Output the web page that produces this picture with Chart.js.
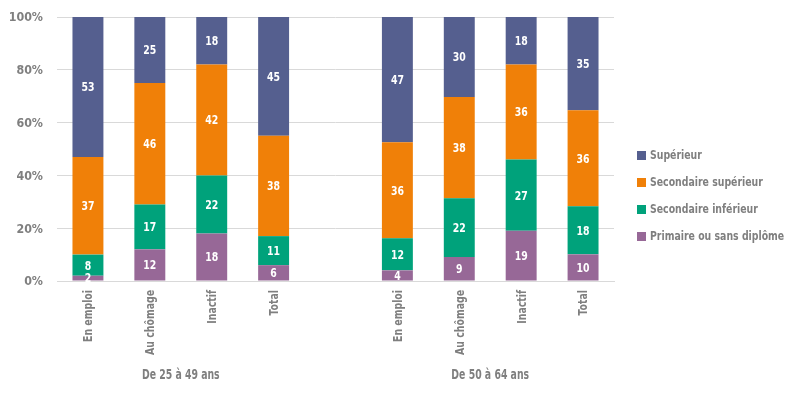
<!DOCTYPE html>
<html><head><meta charset="utf-8">
<script src="https://cdn.jsdelivr.net/npm/chart.js@4/dist/chart.umd.min.js"></script>
<style>html,body{margin:0;padding:0;background:#fff}#wrap{width:800px;height:393px;position:relative}</style>
</head><body><div id="wrap"><canvas id="c" width="800" height="393"></canvas></div>
<script>
const categories = ['En emploi','Au chômage','Inactif','Total','','En emploi','Au chômage','Inactif','Total'];
const groupLabels = ['De 25 à 49 ans','De 50 à 64 ans'];
const groupRanges = [[0,3],[5,8]];
const seriesNames = ['Primaire ou sans diplôme','Secondaire inférieur','Secondaire supérieur','Supérieur'];
const primaire   = [2, 12, 18, 6, null, 4, 9, 19, 10];
const secInf     = [8, 17, 22, 11, null, 12, 22, 27, 18];
const secSup     = [37, 46, 42, 38, null, 36, 38, 36, 36];
const superieur  = [53, 25, 18, 45, null, 47, 30, 18, 35];
const colors = ['#976897','#00A27B','#F08008','#555F8F'];
const yTicks = [0,20,40,60,80,100];

const FONT = '"DejaVu Sans Condensed","DejaVu Sans",sans-serif';
const SX = 0.8;            // horizontal squeeze to imitate the condensed face
const TEXT_GRAY = '#7f7f7f';
const raw = [primaire, secInf, secSup, superieur];
const totals = categories.map((_, i) => raw.reduce((s, a) => s + (a[i] || 0), 0));
const datasets = raw.map((arr, k) => ({
  label: seriesNames[k],
  data: arr.map((v, i) => v == null ? null : v / totals[i] * 100),
  rawLabels: arr,
  backgroundColor: colors[k],
  borderWidth: 0,
  barPercentage: 0.5,
  categoryPercentage: 1.0
}));

function squeezedText(ctx, text, x, y, align, rot, sx) {
  ctx.save();
  ctx.translate(x, y);
  if (rot) ctx.rotate(rot);
  ctx.scale(sx || SX, 1);
  ctx.textAlign = align;
  ctx.fillText(text, 0, 0);
  ctx.restore();
}

const textPlugin = {
  id: 'texts',
  afterDatasetsDraw(chart) {
    const ctx = chart.ctx;
    ctx.save();
    ctx.textBaseline = 'middle';
    ctx.font = 'bold 13px ' + FONT;
    ctx.fillStyle = '#ffffff';
    chart.data.datasets.forEach((ds, di) => {
      const meta = chart.getDatasetMeta(di);
      meta.data.forEach((el, i) => {
        const v = ds.rawLabels[i];
        if (v == null) return;
        squeezedText(ctx, String(v), el.x, (el.y + el.base) / 2 + 1, 'center');
      });
    });
    ctx.restore();
  },
  afterDraw(chart) {
    const ctx = chart.ctx, xs = chart.scales.x, ys = chart.scales.y;
    ctx.save();
    ctx.textBaseline = 'middle';
    ctx.fillStyle = TEXT_GRAY;
    // y tick labels
    ctx.font = 'bold 13px ' + FONT;
    ys.ticks.forEach((t, i) => {
      squeezedText(ctx, t.value + '%', 43, ys.getPixelForTick(i) + 1, 'right', 0, 0.95);
    });
    // x tick labels (vertical)
    categories.forEach((c, i) => {
      if (!c) return;
      squeezedText(ctx, c, xs.getPixelForValue(i) + 1, xs.top + 9, 'right', -Math.PI / 2);
    });
    // group labels
    ctx.font = 'bold 14px ' + FONT;
    groupRanges.forEach((r, g) => {
      const x = (xs.getPixelForValue(r[0]) + xs.getPixelForValue(r[1])) / 2;
      squeezedText(ctx, groupLabels[g], x, 375, 'center', 0, 0.74);
    });
    // legend
    ctx.font = 'bold 13px ' + FONT;
    const order = [3, 2, 1, 0];
    order.forEach((k, j) => {
      const y = 155 + j * 27;
      ctx.fillStyle = colors[k];
      ctx.fillRect(637, y - 4, 9, 9);
      ctx.fillStyle = TEXT_GRAY;
      squeezedText(ctx, seriesNames[k], 650, y + 1, 'left');
    });
    ctx.restore();
  }
};

new Chart(document.getElementById('c'), {
  type: 'bar',
  data: { labels: categories, datasets },
  options: {
    responsive: false,
    animation: false,
    layout: { padding: { left: 0, right: 186, top: 17, bottom: 0 } },
    plugins: { legend: { display: false }, tooltip: { enabled: false } },
    scales: {
      x: {
        stacked: true,
        grid: { display: false, drawTicks: false },
        border: { color: '#d9d9d9', width: 1 },
        ticks: { display: false },
        afterFit(scale) { scale.height = 112; }
      },
      y: {
        stacked: true,
        min: 0, max: 100,
        afterBuildTicks(axis) { axis.ticks = yTicks.map(v => ({ value: v })); },
        grid: { color: '#d9d9d9', drawTicks: false },
        border: { display: false },
        ticks: { display: false },
        afterFit(scale) { scale.width = 57; }
      }
    }
  },
  plugins: [textPlugin]
});
</script></body></html>
